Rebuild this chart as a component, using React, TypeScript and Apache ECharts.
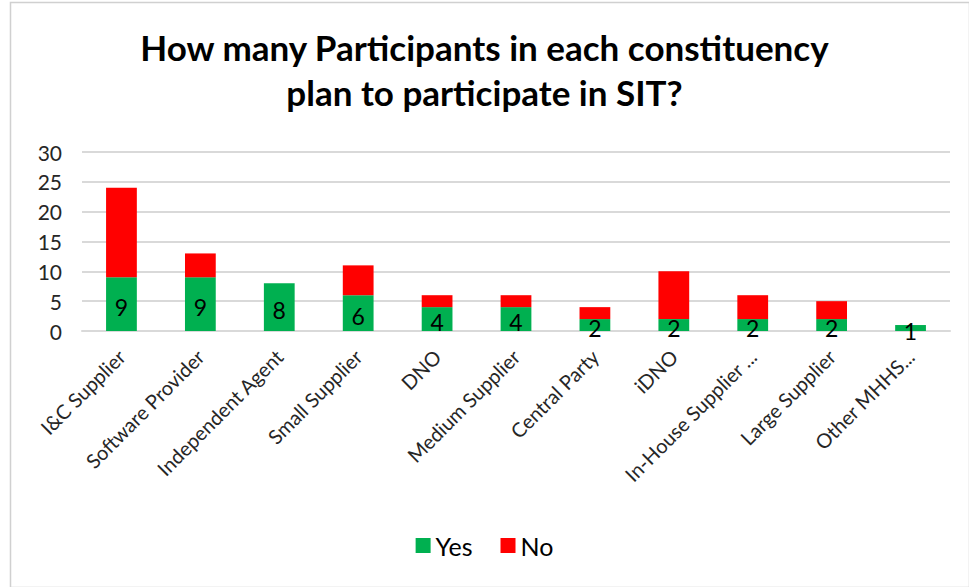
import React, { useEffect, useRef } from "react";
import * as echarts from "echarts";

const categories = [
  "I&C Supplier",
  "Software Provider",
  "Independent Agent",
  "Small Supplier",
  "DNO",
  "Medium Supplier",
  "Central Party",
  "iDNO",
  "In-House Supplier ...",
  "Large Supplier",
  "Other MHHS...",
];
const yesValues = [9, 9, 8, 6, 4, 4, 2, 2, 2, 2, 1];
const noValues = [15, 4, 0, 5, 2, 2, 2, 8, 4, 3, 0];
const titleText = "How many Participants in each constituency\nplan to participate in SIT?";

const FONT = "Lato, 'Open Sans', sans-serif";

export default function App() {
  const ref = useRef<HTMLDivElement>(null);
  useEffect(() => {
    if (!ref.current) return;
    const chart = echarts.init(ref.current, null, { renderer: "svg" });
    chart.setOption({
      animation: false,
      backgroundColor: "#ffffff",
      textStyle: { fontFamily: FONT },
      title: {
        text: titleText,
        left: "center",
        top: 19,
        textStyle: {
          fontFamily: FONT,
          fontWeight: "bold",
          fontSize: 35,
          lineHeight: 45,
          color: "#000",
        },
      },
      legend: {
        bottom: 24,
        left: "center",
        itemWidth: 15,
        itemHeight: 15,
        itemGap: 28,
        icon: "rect",
        textStyle: { fontFamily: FONT, fontSize: 25, color: "#000" },
        data: ["Yes", "No"],
      },
      grid: { left: 82, right: 19, top: 152, bottom: 256, containLabel: false },
      xAxis: {
        type: "category",
        data: categories,
        axisLine: { lineStyle: { color: "#d9d9d9", width: 2 } },
        axisTick: { show: false },
        axisLabel: {
          rotate: 45,
          interval: 0,
          fontFamily: FONT,
          fontSize: 20,
          color: "#262626",
          margin: 22,
        },
      },
      yAxis: {
        type: "value",
        min: 0,
        max: 30,
        interval: 5,
        axisLine: { show: false },
        axisTick: { show: false },
        axisLabel: { fontFamily: FONT, fontSize: 21, color: "#262626", margin: 20 },
        splitLine: { lineStyle: { color: "#d9d9d9", width: 2 } },
      },
      series: [
        {
          name: "Yes",
          type: "bar",
          stack: "total",
          barWidth: "39%",
          data: yesValues,
          itemStyle: { color: "#00b050" },
          label: {
            show: true,
            position: "inside",
            color: "#000",
            fontFamily: FONT,
            fontSize: 23,
            offset: [0, 3],
          },
        },
        {
          name: "No",
          type: "bar",
          stack: "total",
          barWidth: "39%",
          data: noValues,
          itemStyle: { color: "#ff0000" },
        },
      ],
      graphic: [
        {
          type: "rect",
          left: 8,
          top: 0,
          shape: { width: 959, height: 585 },
          style: { fill: "none", stroke: "#d0d0d0", lineWidth: 1.5 },
          silent: true,
        },
      ],
    });
    return () => chart.dispose();
  }, []);
  return <div ref={ref} style={{ width: 969, height: 587, position: "absolute", left: 0, top: 0 }} />;
}
